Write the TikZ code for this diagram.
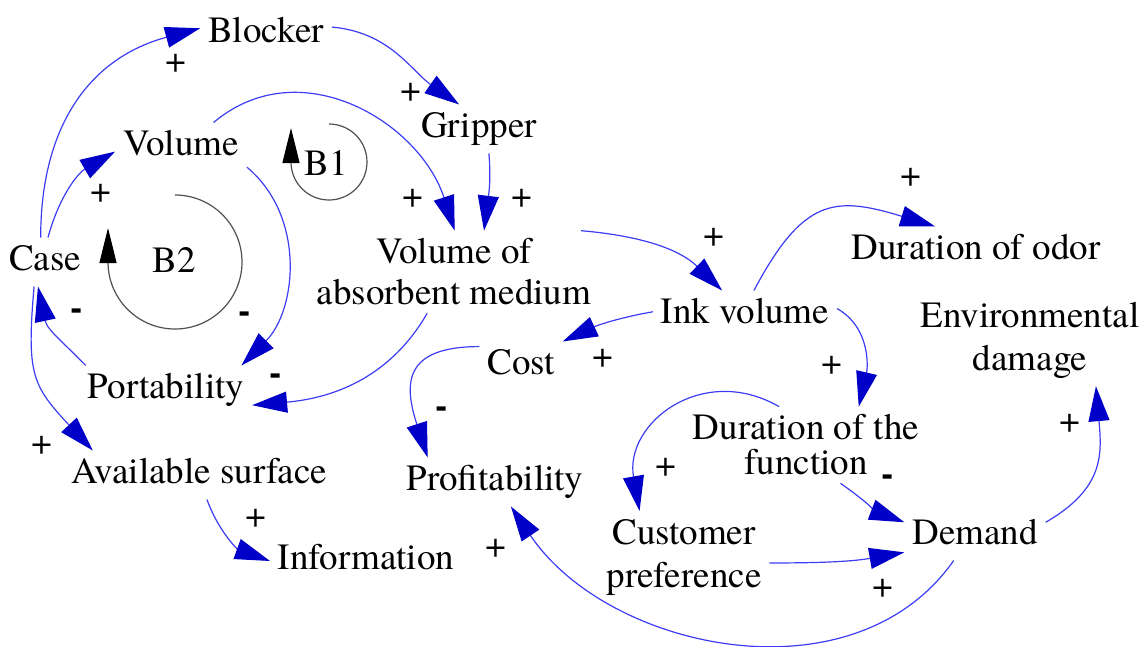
\documentclass[tikz,border=0pt]{standalone}
\usepackage{fontspec}
\setmainfont{TeX Gyre Termes}
\usetikzlibrary{arrows.meta}

\definecolor{linkblue}{HTML}{3C3CF5}
\definecolor{tipblue}{HTML}{0000C8}
\definecolor{loopgray}{HTML}{505050}

\begin{document}
\begin{tikzpicture}[x=1pt,y=1pt]
  % Estilos para variables, signos y enlaces
  \tikzset{
    var_node/.style={font=\fontsize{37}{43}\selectfont,inner sep=3pt,outer sep=5pt,text height=25pt,text depth=8pt},
    var2_node/.style={font=\fontsize{37}{43}\selectfont,inner sep=3pt,outer sep=5pt,align=center},
    sign_node/.style={font=\fontsize{37}{43}\selectfont,inner sep=0pt},
    link_arrow/.style={linkblue,line width=1.2pt,-{Triangle[length=35pt,width=21pt,color=tipblue]}},
    loop_arc/.style={loopgray,line width=1.2pt,-{Triangle[length=35pt,width=17pt,color=black]}}
  }
  \useasboundingbox (0,0) rectangle (1146,-646);

  % Variables (parte izquierda)
  \node[var_node] (blocker) at (266,-34) {Blocker};
  \node[var_node] (gripper) at (479,-129) {Gripper};
  \node[var_node] (volume) at (181,-147) {Volume};
  \node[var_node] (case) at (45,-262) {Case};
  \node[var2_node] (vam) at (454,-272) {Volume of\\[-2pt]absorbent medium};
  \node[var_node] (portability) at (166,-390) {Portability};
  \node[var_node] (available) at (199,-475) {Available surface};
  \node[var_node] (information) at (366,-561) {Information};
  \node[var_node] (cost) at (521,-366) {Cost};
  \node[var_node] (profitability) at (495,-482) {Profitability};

  % Variables (parte derecha)
  \node[var_node] (ink) at (745,-315) {Ink volume};
  \node[var_node] (odor) at (976,-251) {Duration of odor};
  \node[var2_node] (env) at (1030,-340) {Environmental\\damage};
  \node[var2_node] (funct) at (806,-445) {Duration of the\\[-8pt]function};
  \node[var2_node] (customer) at (684,-557) {Customer\\preference};
  \node[var_node] (demand) at (975,-536) {Demand};

  % Bucles de balance
  \node[var_node] (b1) at (326,-167) {B1};
  \node[var_node] (b2) at (174,-264) {B2};
  \draw[loop_arc] (329,-124) arc[start angle=90,end angle=-180,radius=38] -- ++(0,34);
  \draw[loop_arc] (175,-195) arc[start angle=90,end angle=-180,radius=67] -- ++(0,34);

  % Enlaces causales
  \foreach \from/\to/\o/\i/\l in {
      case.100/blocker.175/90/195/1.1,
      case.83/volume.184/75/210/1,
      blocker.6/gripper.129/-5/145/1,
      volume.37/vam.89/40/108/1.1,
      gripper.292/vam.54/-85/83/1,
      volume.343/portability.18/-40/45/1,
      portability.163/case.254/135/-78/1.2,
      vam.237/portability.350/-120/5/1,
      case.246/available.167/-95/133/1.3,
      available.288/information.west/-70/160/1,
      vam.18/ink.133/-5/136/1,
      ink.178/cost.north east/190/25/1,
      ink.70/odor.149/62/163/1.4,
      ink.4/funct.36/-30/77/1,
      cost.155/profitability.160/180/108/1.6,
      funct.125/customer.134/150/100/1.3,
      funct.312/demand.169/-35/159/1,
      customer.356/demand.193/0/190/1,
      demand.11/env.325/30/-85/1.2,
      demand.229/profitability.303/-125/-56/1}
    \draw[link_arrow] (\from) to[out=\o,in=\i,looseness=\l] (\to);

  % Signos de los enlaces
  \foreach \sx/\sy [count=\k] in {176/63,101/193,411/92,413/198,522/198,42/445,256/518,714/237,
      603/358,911/177,832/365,666/467,883/588,1070/423,496/548}
    \node[sign_node] (plus\k) at (\sx,-\sy) {+};
  \foreach \sx/\sy [count=\k] in {245/317,77/314,276/379,442/412,888/480}
    \node[sign_node] (minus\k) at (\sx,-\sy) {\textbf{-}};
\end{tikzpicture}
\end{document}
